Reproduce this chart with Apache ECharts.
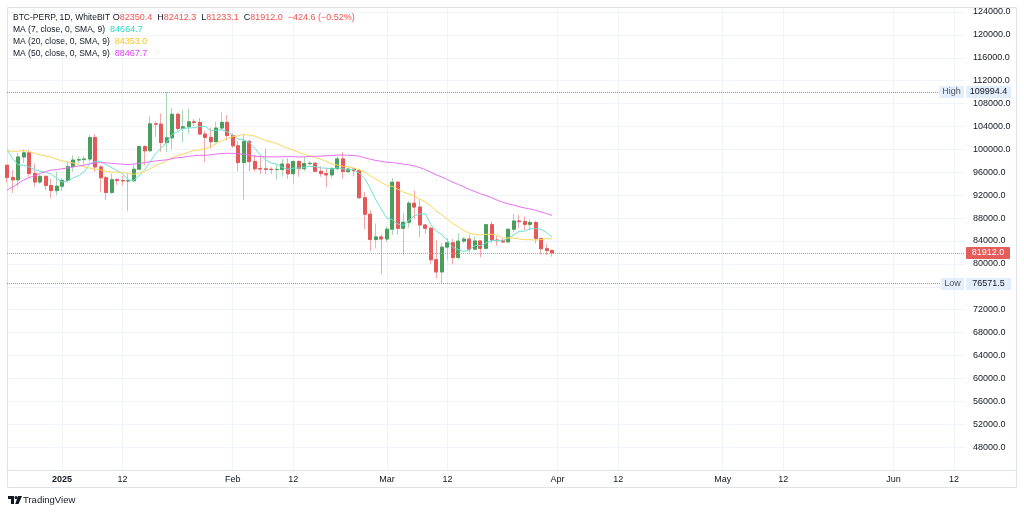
<!DOCTYPE html>
<html>
<head>
<meta charset="utf-8">
<script src="https://cdn.jsdelivr.net/npm/echarts@6/dist/echarts.min.js"></script>
<style>
    html, body { margin: 0; padding: 0; background: #ffffff; }
    #Root { width: 1024px; height: 513px; }
</style>
</head>
<body>
<div id="Root"></div>
<script>
// daily candles, 22 Dec 2024 .. 31 Mar 2025
const FirstDay = Date.UTC(2024, 11, 22)
const AxisDays = 175

const Opens = [97224, 95104, 94686, 98676, 99400, 95791, 94299, 95300, 93700, 92800,
    93576, 94591, 96984, 98143, 98210, 98314, 102078, 96922, 95043, 92484,
    94701, 94567, 94488, 94516, 96534, 100504, 99756, 104462, 104408, 101200,
    102016, 106143, 103653, 103960, 104819, 104714, 102682, 102087, 101332, 103733,
    104722, 102429, 100635, 97700, 101406, 97871, 96615, 96593, 96529, 96482,
    96500, 97437, 95748, 97885, 96623, 97508, 97580, 96175, 95773, 95540,
    96635, 98334, 96125, 96577, 96273, 91552, 88680, 84250, 84708, 84349,
    86064, 94270, 86220, 87281, 90606, 89931, 86801, 86222, 80734, 78595,
    82932, 83680, 81115, 83983, 84338, 82574, 84010, 82716, 86854, 84167,
    84043, 83832, 86054, 87498, 87392, 86909, 87232, 84424, 82648, 82350.4]

const Highs = [97400, 96416, 99404, 99960, 99963, 97544, 95525, 95330, 94900, 96150,
    95000, 97800, 98976, 98778, 98813, 102482, 102700, 97250, 95350, 95800,
    94980, 95400, 95900, 97300, 100681, 100700, 105800, 104900, 106300, 109994.4,
    107200, 106394, 106850, 107120, 105286, 105500, 103200, 103783, 104800, 106457,
    106012, 102783, 101456, 102500, 101700, 99000, 99000, 100137, 96880, 97323,
    98345, 98500, 98119, 98100, 98826, 97970, 97733, 97046, 96753, 96899,
    98767, 99508, 96980, 96671, 96503, 92541, 89414, 87078, 85120, 86558,
    95000, 94416, 88967, 91000, 92810, 91283, 86897, 86500, 84123, 83617,
    84539, 84336, 85309, 84676, 85117, 84756, 84021, 87021, 87454, 84850,
    84513, 86129, 88765, 88539, 88292, 87786, 87515, 84624, 83534, 82412.3]

const Lows = [94200, 92403, 93448, 97600, 95200, 93500, 94000, 92900, 91500, 92000,
    92800, 94200, 96100, 97500, 97300, 97900, 96100, 92500, 91200, 92200,
    93800, 93700, 89256, 94300, 96500, 97300, 99700, 102200, 99600, 99500,
    100000, 103300, 101200, 102750, 104100, 102500, 97777, 100200, 101300, 103300,
    101560, 100279, 96150, 91231, 96150, 96150, 95700, 95620, 95688, 94713,
    95256, 94850, 94088, 95217, 96252, 97223, 96053, 95205, 93388, 95029,
    96401, 94871, 95770, 95270, 91371, 86050, 82256, 82716, 78258, 83824,
    85050, 85117, 81529, 86335, 87836, 84667, 85248, 80000, 77459, 76571.5,
    80607, 79939, 80818, 83618, 82017, 82457, 81134, 82569, 83655, 83175,
    83674, 83771, 85519, 86310, 85861, 85837, 83585, 81644, 81565, 81233.1]

const Closes = [95104, 94686, 98676, 99400, 95791, 94299, 95300, 93700, 92800, 93576,
    94591, 96984, 98143, 98210, 98314, 102078, 96922, 95043, 92484, 94701,
    94567, 94488, 94516, 96534, 100504, 99756, 104462, 104408, 101200, 102016,
    106143, 103653, 103960, 104819, 104714, 102682, 102087, 101332, 103733, 104722,
    102429, 100635, 97700, 101406, 97871, 96615, 96593, 96529, 96482, 96500,
    97437, 95748, 97885, 96623, 97508, 97580, 96175, 95773, 95540, 96635,
    98334, 96125, 96577, 96273, 91552, 88680, 84250, 84708, 84349, 86064,
    94270, 86220, 87281, 90606, 89931, 86801, 86222, 80734, 78595, 82932,
    83680, 81115, 83983, 84338, 82574, 84010, 82716, 86854, 84167, 84043,
    83832, 86054, 87498, 87392, 86909, 87232, 84424, 82648, 82336.6, 81912.0]

const MA7 = [100010, 98390, 97330, 97210, 96970, 96470, 96190, 95990, 95710, 94990,
    94300, 94470, 95010, 95430, 96090, 97410, 97890, 97940, 97300, 96810,
    96300, 95760, 94670, 94610, 95400, 96440, 97840, 99240, 100200, 101270,
    102640, 103100, 103700, 103740, 103790, 104000, 104010, 103330, 103330, 103430,
    103090, 102500, 101790, 101690, 101200, 100190, 99030, 98190, 97600, 97430,
    96860, 96540, 96730, 96730, 96870, 97030, 96990, 96760, 96730, 96540,
    96790, 96590, 96440, 96460, 95860, 94890, 93130, 91190, 89500, 88000,
    87710, 86940, 86740, 87640, 88390, 88740, 88760, 86810, 85730, 85100,
    84110, 82860, 82460, 82190, 82460, 83230, 83200, 83660, 84100, 84100,
    84030, 84530, 85030, 85700, 85700, 86130, 86190, 86010, 85490, 84664.7]

const MA20 = [99740, 99680, 99670, 99810, 99610, 99330, 99030, 98850, 98660, 98290,
    98020, 97800, 97630, 97320, 96930, 96730, 96560, 96440, 96170, 96040,
    96020, 96010, 95800, 95650, 95890, 96160, 96620, 97160, 97580, 98000,
    98570, 98910, 99200, 99530, 99850, 99880, 100140, 100460, 101020, 101520,
    101910, 102210, 102370, 102620, 102490, 102330, 101930, 101540, 101300, 101030,
    100590, 100190, 99890, 99480, 99120, 98860, 98570, 98290, 97880, 97480,
    97270, 97050, 96990, 96740, 96420, 96030, 95410, 94820, 94210, 93690,
    93540, 93060, 92530, 92230, 91850, 91310, 90810, 90060, 89210, 88530,
    87800, 87050, 86420, 85820, 85370, 85130, 85050, 85160, 85160, 85050,
    84530, 84520, 84530, 84370, 84220, 84240, 84150, 84250, 84440, 84353.0]

const MA50 = [92910, 93420, 94040, 94640, 95050, 95410, 95790, 96130, 96380, 96480,
    96610, 96740, 96950, 97090, 97250, 97490, 97620, 97680, 97640, 97570,
    97480, 97420, 97350, 97420, 97590, 97670, 97850, 97980, 98080, 98180,
    98380, 98540, 98640, 98800, 98900, 98960, 98970, 99050, 99200, 99270,
    99320, 99300, 99230, 99160, 99000, 98810, 98740, 98720, 98690, 98680,
    98720, 98740, 98730, 98670, 98700, 98770, 98790, 98830, 98880, 98940,
    99020, 99000, 98970, 98930, 98800, 98530, 98280, 98070, 97910, 97740,
    97730, 97560, 97420, 97300, 97090, 96830, 96460, 95990, 95540, 95160,
    94710, 94260, 93860, 93450, 93000, 92630, 92240, 91950, 91560, 91150,
    90780, 90490, 90280, 90000, 89780, 89600, 89350, 89070, 88790, 88467.7]

const TickDates = ['2025-01-01', '2025-01-12', '2025-02-01', '2025-02-12', '2025-03-01', '2025-03-12',
    '2025-04-01', '2025-04-12', '2025-05-01', '2025-05-12', '2025-06-01', '2025-06-12']
const TickLabels = ['2025', '12', 'Feb', '12', 'Mar', '12', 'Apr', '12', 'May', '12', 'Jun', '12']

const FontFamily = '"Liberation Sans", Arial, sans-serif'
const TextColor = '#131722'
const UpColor = '#4a9e5b'
const DownColor = '#e55858'
const UpWick = '#a9d6b2'
const DownWick = '#f2a8a8'
const GridColor = '#f0f3fa'
const BorderColor = '#e0e3eb'

let Days = []
for (let i = 0; i < AxisDays; i++) {
    Days.push(new Date(FirstDay + i * 864e5).toISOString().slice(0, 10))
}

let WickData = Opens.map((o, i) => [o, Closes[i], Lows[i], Highs[i]])
let BodyData = Opens.map((o, i) => [o, Closes[i], Math.min(o, Closes[i]), Math.max(o, Closes[i])])

const HighValue = Math.max(...Highs)
const LowValue = Math.min(...Lows)
const LastClose = Closes[Closes.length - 1]
const PrevClose = Closes[Closes.length - 2]

function IsTick(index, value) {
    return TickDates.indexOf(value) >= 0
}

let Chart = echarts.init(document.getElementById('Root'))

let Options = {
    animation: false,
    backgroundColor: '#ffffff',
    textStyle: { fontFamily: FontFamily },
    grid: { left: 7, right: 59, top: 7, bottom: 43 },
    xAxis: {
        type: 'category',
        data: Days,
        boundaryGap: false,
        axisLine: { lineStyle: { color: BorderColor } },
        axisTick: { show: false, interval: IsTick },
        axisLabel: {
            interval: IsTick,
            margin: 5,
            color: TextColor,
            fontSize: 9,
            fontFamily: FontFamily,
            formatter: function (value) {
                let k = TickDates.indexOf(value)
                return k === 0 ? '{b|' + TickLabels[k] + '}' : TickLabels[k]
            },
            rich: { b: { fontWeight: 'bold', fontSize: 9, color: TextColor, fontFamily: FontFamily } }
        },
        splitLine: { show: true, interval: IsTick, lineStyle: { color: GridColor } }
    },
    yAxis: {
        type: 'value',
        position: 'right',
        min: 44000,
        max: 124873,
        interval: 4000,
        axisLine: { show: false },
        axisTick: { show: false },
        axisLabel: {
            margin: 8,
            color: TextColor,
            fontSize: 9,
            fontFamily: FontFamily,
            formatter: function (v) {
                return (v >= 48000 && v % 4000 === 0) ? v.toFixed(1) : ''
            }
        },
        splitLine: { lineStyle: { color: GridColor } }
    },
    series: [
        {
            name: 'wick',
            type: 'candlestick',
            data: WickData,
            barWidth: 3.5,
            itemStyle: { color: UpWick, color0: DownWick, borderColor: UpWick, borderColor0: DownWick, borderWidth: 1 },
            markLine: {
                silent: true,
                symbol: 'none',
                label: { show: false },
                data: [
                    { yAxis: HighValue, lineStyle: { color: '#9598a1', type: 'dotted', width: 1 } },
                    { yAxis: LowValue, lineStyle: { color: '#9598a1', type: 'dotted', width: 1 } },
                    { yAxis: LastClose, lineStyle: { color: '#ef8a8a', type: 'dotted', width: 1 } }
                ]
            }
        },
        {
            name: 'body',
            type: 'candlestick',
            data: BodyData,
            barWidth: 3.5,
            itemStyle: { color: UpColor, color0: DownColor, borderColor: UpColor, borderColor0: DownColor, borderWidth: 1 }
        },
        {
            name: 'MA7', type: 'line', data: MA7, showSymbol: false,
            lineStyle: { color: '#6fe0d4', width: 1 }
        },
        {
            name: 'MA20', type: 'line', data: MA20, showSymbol: false,
            lineStyle: { color: '#fcd75a', width: 1 }
        },
        {
            name: 'MA50', type: 'line', data: MA50, showSymbol: false,
            lineStyle: { color: '#e670f5', width: 1 }
        }
    ]
}

Chart.setOption(Options)

//#region tags and legend
function Fmt(v) {
    return v.toFixed(1)
}

function Tag(y, text, x, w, fill, color) {
    return {
        type: 'group',
        z: 100,
        children: [
            { type: 'rect', z: 100, shape: { x: x, y: Math.round(y) - 6, width: w, height: 12, r: 1 }, style: { fill: fill } },
            {
                type: 'text', z: 101, x: x + w / 2, y: Math.round(y),
                style: { text: text, fill: color, font: '9px ' + FontFamily, textAlign: 'center', textVerticalAlign: 'middle' }
            }
        ]
    }
}

let yHigh = Chart.convertToPixel({ yAxisIndex: 0 }, HighValue)
let yLow = Chart.convertToPixel({ yAxisIndex: 0 }, LowValue)
let yLast = Chart.convertToPixel({ yAxisIndex: 0 }, LastClose)

let Change = LastClose - PrevClose
let ChangePct = Change / PrevClose * 100
let Sign = Change < 0 ? '\u2212' : '+'

let LegendLines = [
    '{t|BTC-PERP, 1D, WhiteBIT} {k|O}{r|' + Fmt(Opens[Opens.length - 1]) + '}  {k|H}{r|' + Fmt(Highs[Highs.length - 1]) +
    '}  {k|L}{r|' + Fmt(Lows[Lows.length - 1]) + '}  {k|C}{r|' + Fmt(LastClose) + '}  {r|' + Sign + Math.abs(Change).toFixed(1) +
    ' (' + Sign + Math.abs(ChangePct).toFixed(2) + '%)}',
    '{t|MA (7, close, 0, SMA, 9)}  {c|' + Fmt(MA7[MA7.length - 1]) + '}',
    '{t|MA (20, close, 0, SMA, 9)}  {y|' + Fmt(MA20[MA20.length - 1]) + '}',
    '{t|MA (50, close, 0, SMA, 9)}  {m|' + Fmt(MA50[MA50.length - 1]) + '}'
]
let LegendRich = {
    t: { fill: TextColor, font: '8.5px ' + FontFamily },
    k: { fill: TextColor, font: '9px ' + FontFamily },
    r: { fill: '#ef5350', font: '9px ' + FontFamily },
    c: { fill: '#2fd8c6', font: '9px ' + FontFamily },
    y: { fill: '#f7c629', font: '9px ' + FontFamily },
    m: { fill: '#e040fb', font: '9px ' + FontFamily }
}

let Graphics = [
    {
        type: 'rect', silent: true, z: 0,
        shape: { x: 7.5, y: 7.5, width: 1009, height: 480 },
        style: { fill: 'none', stroke: BorderColor, lineWidth: 1 }
    },
    {
        type: 'line', silent: true, z: 0,
        shape: { x1: 965, y1: 470.5, x2: 1017, y2: 470.5 },
        style: { stroke: BorderColor, lineWidth: 1 }
    },
    Tag(yHigh, 'High', 939, 25, '#e3eefc', '#50535e'),
    Tag(yHigh, Fmt(HighValue), 966, 45, '#e3eefc', TextColor),
    Tag(yLow, 'Low', 941, 23, '#e3eefc', '#50535e'),
    Tag(yLow, Fmt(LowValue), 966, 45, '#e3eefc', TextColor),
    Tag(yLast, Fmt(LastClose), 966, 44, '#e35d5b', '#ffffff'),
    // TradingView mark
    { type: 'polygon', shape: { points: [[8, 496], [14, 496], [14, 504], [11, 504], [11, 499], [8, 499]] }, style: { fill: TextColor } },
    { type: 'circle', shape: { cx: 16, cy: 497.6, r: 1.5 }, style: { fill: TextColor } },
    { type: 'polygon', shape: { points: [[18, 496], [22, 496], [18.5, 504], [15.2, 504]] }, style: { fill: TextColor } },
    { type: 'text', x: 23, y: 500, style: { text: 'TradingView', fill: TextColor, font: '500 9.5px ' + FontFamily, textVerticalAlign: 'middle' } }
]
let LegendY = [17.5, 30, 42, 54]
LegendLines.forEach((line, i) => {
    Graphics.push({
        type: 'text', x: 13, y: LegendY[i],
        style: { text: line, rich: LegendRich, textVerticalAlign: 'middle', font: '9px ' + FontFamily }
    })
})

Chart.setOption({ graphic: Graphics })
//#endregion
</script>
</body>
</html>
